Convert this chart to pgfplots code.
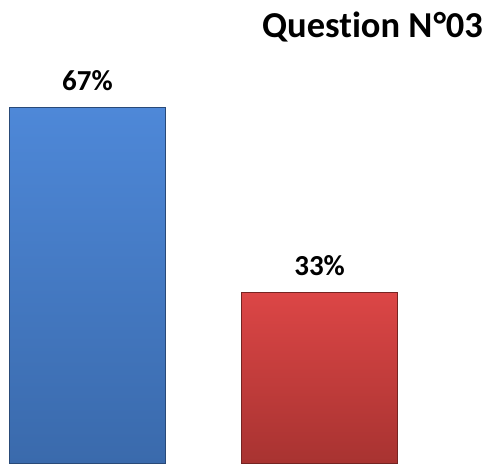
\documentclass[border=0pt]{standalone}
\usepackage{fontspec}
\setmainfont[Ligatures={NoCommon,NoRequired,NoContextual}]{Carlito}
\usepackage{pgfplots}
\pgfplotsset{compat=1.18}
\definecolor{bluetop}{HTML}{4E88D8}
\definecolor{bluebot}{HTML}{3A6AAC}
\definecolor{redtop}{HTML}{DC4646}
\definecolor{redbot}{HTML}{A83331}
\begin{document}
\begin{tikzpicture}
\begin{axis}[
  name=main,
  scale only axis,
  width=489pt, height=463pt,
  hide axis,
  xmin=-0.377, xmax=1.73,
  ymin=1.6, ymax=86.7,
  bar width=156pt,
  clip=false,
  /pgf/number format/assume math mode=true,
  nodes near coords={\pgfmathprintnumber{\pgfplotspointmeta}\%},
  nodes near coords style={font=\bfseries\fontsize{29}{31}\selectfont, anchor=base, inner sep=0pt, yshift=17pt, text=black},
]
\addplot[ybar, bar shift=0pt, draw=bluebot!70!black, line width=1pt, top color=bluetop, bottom color=bluebot] coordinates {(0,67)};
\addplot[ybar, bar shift=0pt, draw=redbot!70!black, line width=1pt, top color=redtop, bottom color=redbot] coordinates {(1,33)};
\node[anchor=base east, inner sep=0pt, font=\bfseries\fontsize{36.5}{39}\selectfont] at (rel axis cs:0.988,0.918) {Question N\kern1pt°03};
\end{axis}
\pgfresetboundingbox
\useasboundingbox (main.south west) rectangle (main.north east);
\end{tikzpicture}
\end{document}
